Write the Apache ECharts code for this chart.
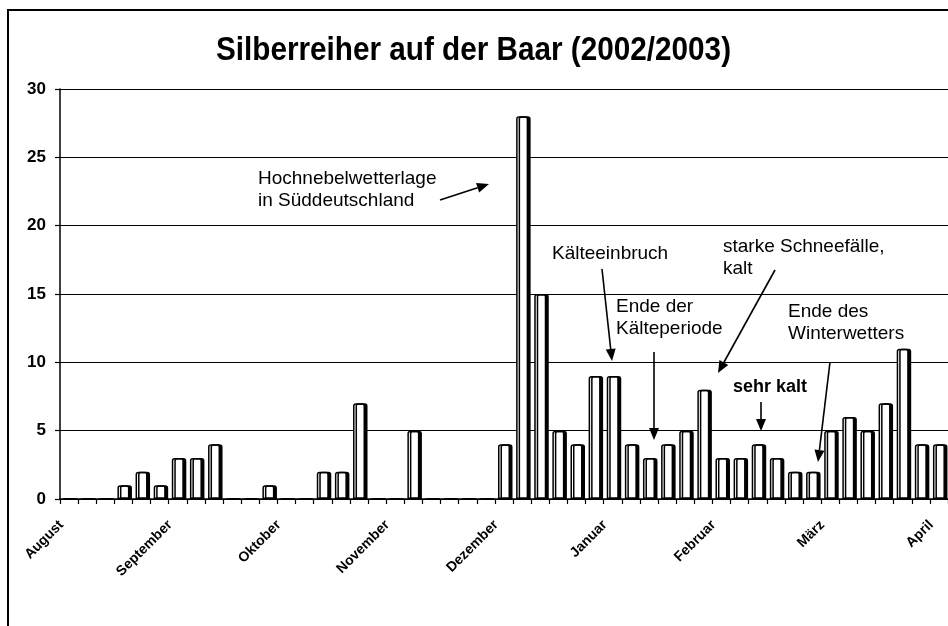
<!DOCTYPE html>
<html>
<head>
<meta charset="utf-8">
<script src="https://cdn.jsdelivr.net/npm/echarts@6/dist/echarts.min.js"></script>
<style>
html,body{margin:0;padding:0;background:#fff;}
#chart{width:948px;height:626px;}
</style>
</head>
<body>
<div id="chart"></div>
<script>
// Pentads (5-day periods) from August 2002 to April 2003, 6 per month
const monthLabels = ["August","September","Oktober","November","Dezember","Januar","Februar","März","April"];
const pentadsPerMonth = 6;
// Count of great egrets per pentad
const values = [0,0,0,1,2,1,3,3,4,0,0,1,0,0,2,2,7,0,0,5,0,0,0,0,4,28,15,5,4,9,9,4,3,4,5,8,3,3,4,3,2,2,5,6,5,7,11,4,4];
const yTicks = [0,5,10,15,20,25,30];
const titleText = 'Silberreiher auf der Baar (2002/2003)';

const categories = values.map((v,i)=> (i % pentadsPerMonth === 0 && monthLabels[i/pentadsPerMonth]) ? monthLabels[i/pentadsPerMonth] : ("p" + i));

const chart = echarts.init(document.getElementById('chart'), null, {renderer:'canvas'});

function arrow(x1,y1,x2,y2){
  const ang = Math.atan2(y2-y1, x2-x1);
  const L = 12, W = 5;
  const bx = x2 - L*Math.cos(ang), by = y2 - L*Math.sin(ang);
  const px = -Math.sin(ang)*W, py = Math.cos(ang)*W;
  return [
    {type:'line', shape:{x1:x1,y1:y1,x2:bx,y2:by}, style:{stroke:'#000', lineWidth:1.6}},
    {type:'polygon', shape:{points:[[x2,y2],[bx+px,by+py],[bx-px,by-py]]}, style:{fill:'#000'}}
  ];
}
const annFamily = '"Liberation Sans", Arial, sans-serif';
function txt(x,y,t,bold,size){
  return {type:'text', x:x, y:y, style:{text:t, font:(bold?'bold ':'') + (size||19) + 'px ' + annFamily, fill:'#000', lineHeight:22, textVerticalAlign:'top'}};
}

const graphics = [
  {type:'rect', shape:{x:8, y:10, width:1000, height:700}, style:{fill:'none', stroke:'#000', lineWidth:2}, z:-1},
  {type:'text', x:473.5, y:51, scaleX:0.9, style:{text:titleText, font:'bold 33px "Liberation Sans", Arial, sans-serif', fill:'#000', textAlign:'center', textVerticalAlign:'middle'}},
  txt(258,168,'Hochnebelwetterlage\nin Süddeutschland'),
  ...arrow(440,200,489,184),
  txt(552,243,'Kälteeinbruch'),
  ...arrow(602,269,612,361),
  txt(616,296,'Ende der\nKälteperiode'),
  ...arrow(654,352,654,440),
  txt(723,236,'starke Schneefälle,\nkalt'),
  ...arrow(775,270,718,373),
  txt(733,376,'sehr kalt', true, 18),
  ...arrow(761,402,761,431),
  txt(788,301,'Ende des\nWinterwetters'),
  ...arrow(830,362,818,462)
];

chart.setOption({
  backgroundColor:'#fff',
  animation:false,
  grid:{left:60, top:89, width:892, height:410, containLabel:false},
  xAxis:{
    type:'category',
    data:categories,
    boundaryGap:true,
    axisLine:{lineStyle:{color:'#000', width:1.5}},
    axisTick:{show:true, interval:0, length:5, inside:false, lineStyle:{color:'#000', width:1.2}},
    axisLabel:{
      interval:0, rotate:45, margin:16, padding:[0,11,0,0],
      formatter:(v)=> monthLabels.indexOf(v) >= 0 ? v : '',
      fontFamily:'"Liberation Sans", Arial, sans-serif', fontWeight:'bold', fontSize:14, color:'#000'
    },
    splitLine:{show:false}
  },
  yAxis:{
    type:'value', min:0, max:30, interval:5,
    axisLine:{show:true, lineStyle:{color:'#000', width:1.5}},
    axisTick:{show:true, length:5, lineStyle:{color:'#000', width:1.2}},
    axisLabel:{margin:14, fontFamily:'"Liberation Sans", Arial, sans-serif', fontWeight:'bold', fontSize:17, color:'#000',
      formatter:(v)=> yTicks.indexOf(v) >= 0 ? String(v) : ''},
    splitLine:{show:true, lineStyle:{color:'#000', width:1.2}}
  },
  series:[{
    type:'bar',
    data:values,
    barWidth:12,
    itemStyle:{color:'#fff', borderColor:'#000', borderWidth:1.5, borderRadius:[2,2,0,0],
      shadowColor:'#000', shadowOffsetX:2.5, shadowOffsetY:0, shadowBlur:0},
    emphasis:{disabled:true}
  }],
  graphic:graphics
});
</script>
</body>
</html>
